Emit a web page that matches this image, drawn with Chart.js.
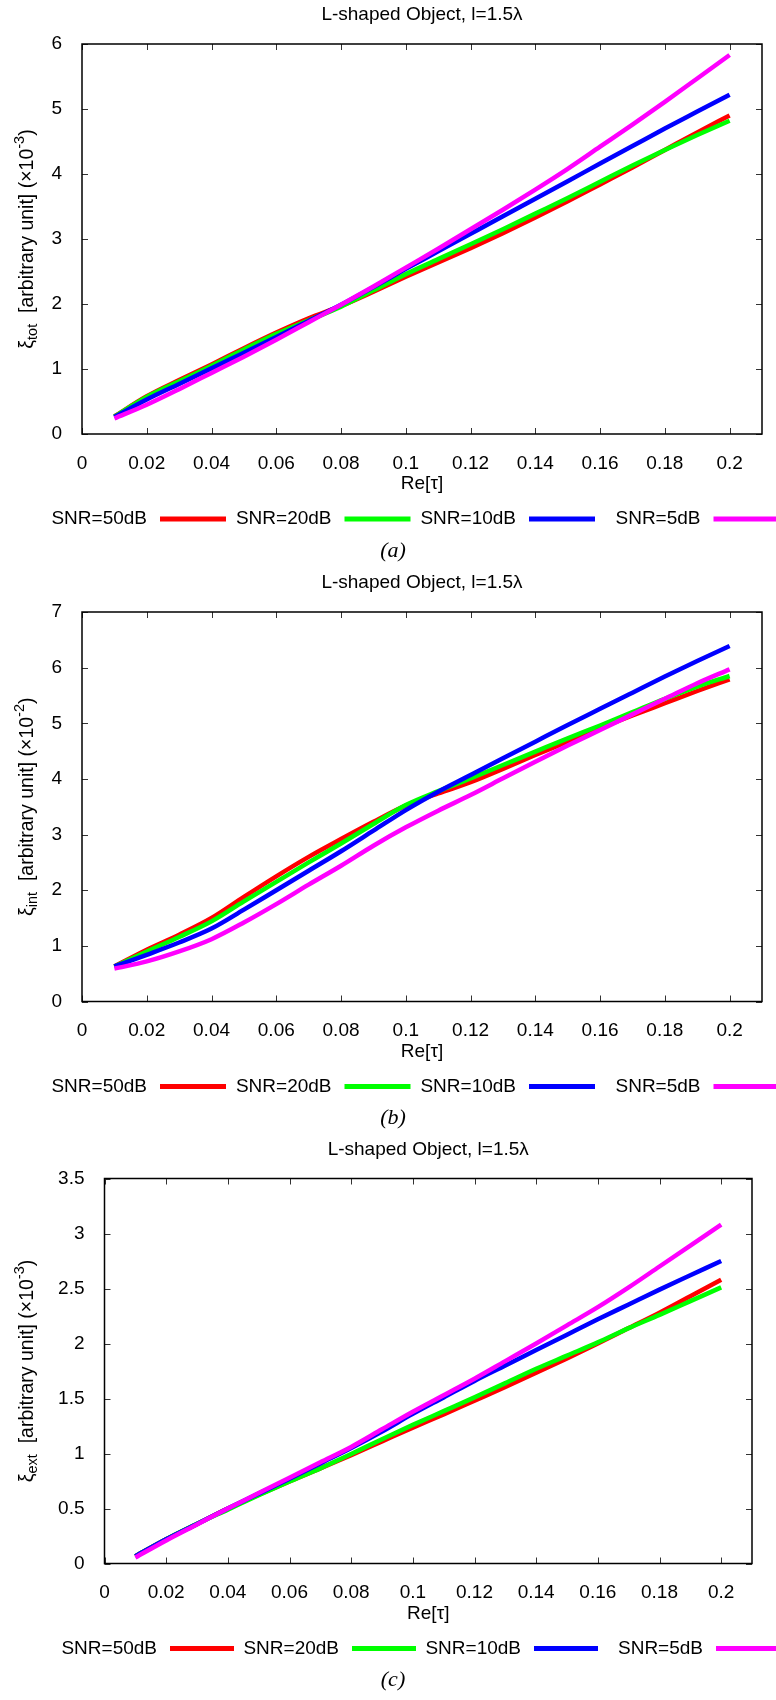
<!DOCTYPE html>
<html>
<head>
<meta charset="utf-8">
<script src="https://cdn.jsdelivr.net/npm/chart.js@4.4.1/dist/chart.umd.min.js"></script>
<style>
  html, body { margin: 0; padding: 0; background: #fff; }
  #page { position: relative; width: 776px; height: 1700px; }
  #page canvas { position: absolute; left: 0; }
</style>
</head>
<body>
<div id="page">
  <canvas id="chart-a" width="776" height="567" style="top:0"></canvas>
  <canvas id="chart-b" width="776" height="566" style="top:567px"></canvas>
  <canvas id="chart-c" width="776" height="567" style="top:1133px"></canvas>
</div>
<script>
// Re[tau] sample positions, shared by all three panels
const xValues = [0.01, 0.02, 0.03, 0.04, 0.05, 0.06, 0.07, 0.08, 0.09, 0.10,
                 0.11, 0.12, 0.13, 0.14, 0.15, 0.16, 0.17, 0.18, 0.19, 0.20];
const xTicks = [0, 0.02, 0.04, 0.06, 0.08, 0.1, 0.12, 0.14, 0.16, 0.18, 0.2];
const seriesLabels = ['SNR=50dB', 'SNR=20dB', 'SNR=10dB', 'SNR=5dB'];

// (a) xi_tot, x10^-3
const totSnr50 = [0.27, 0.58, 0.83, 1.07, 1.32, 1.56, 1.78, 1.97, 2.19, 2.42, 2.64, 2.86, 3.09, 3.33, 3.58, 3.84, 4.10, 4.37, 4.64, 4.90];
const totSnr20 = [0.27, 0.57, 0.81, 1.05, 1.30, 1.54, 1.75, 1.96, 2.21, 2.46, 2.69, 2.92, 3.15, 3.39, 3.63, 3.88, 4.13, 4.37, 4.60, 4.82];
const totSnr10 = [0.26, 0.53, 0.77, 1.01, 1.25, 1.49, 1.74, 1.99, 2.26, 2.54, 2.81, 3.08, 3.35, 3.62, 3.89, 4.16, 4.43, 4.70, 4.96, 5.22];
const totSnr5  = [0.24, 0.45, 0.69, 0.94, 1.19, 1.45, 1.72, 1.99, 2.27, 2.56, 2.85, 3.15, 3.45, 3.76, 4.08, 4.42, 4.76, 5.11, 5.47, 5.83];
const totTicks = [0, 1, 2, 3, 4, 5, 6];

// (b) xi_int, x10^-2
const intSnr50 = [0.63, 0.93, 1.20, 1.50, 1.88, 2.25, 2.60, 2.92, 3.23, 3.52, 3.74, 3.94, 4.18, 4.43, 4.67, 4.91, 5.14, 5.36, 5.58, 5.79];
const intSnr20 = [0.63, 0.90, 1.16, 1.44, 1.80, 2.15, 2.50, 2.84, 3.19, 3.53, 3.78, 4.01, 4.25, 4.49, 4.73, 4.96, 5.20, 5.44, 5.66, 5.85];
const intSnr10 = [0.63, 0.84, 1.06, 1.31, 1.65, 2.00, 2.35, 2.70, 3.07, 3.44, 3.77, 4.07, 4.37, 4.67, 4.97, 5.26, 5.55, 5.84, 6.12, 6.39];
const intSnr5  = [0.59, 0.72, 0.90, 1.12, 1.42, 1.75, 2.10, 2.44, 2.80, 3.13, 3.43, 3.71, 4.01, 4.31, 4.60, 4.88, 5.16, 5.44, 5.72, 5.97];
const intTicks = [0, 1, 2, 3, 4, 5, 6, 7];

// (c) xi_ext, x10^-3
const extSnr50 = [0.066, 0.22, 0.36, 0.50, 0.625, 0.745, 0.865, 0.985, 1.11, 1.235, 1.355, 1.48, 1.605, 1.735, 1.865, 2.00, 2.14, 2.28, 2.43, 2.58];
const extSnr20 = [0.066, 0.22, 0.36, 0.49, 0.62, 0.745, 0.865, 0.995, 1.13, 1.26, 1.385, 1.51, 1.64, 1.77, 1.89, 2.01, 2.14, 2.26, 2.385, 2.51];
const extSnr10 = [0.066, 0.22, 0.36, 0.50, 0.635, 0.77, 0.91, 1.05, 1.20, 1.36, 1.51, 1.66, 1.80, 1.94, 2.08, 2.22, 2.355, 2.49, 2.62, 2.75];
const extSnr5  = [0.055, 0.21, 0.355, 0.50, 0.64, 0.78, 0.92, 1.06, 1.22, 1.38, 1.53, 1.68, 1.84, 2.00, 2.165, 2.33, 2.51, 2.70, 2.89, 3.08];
const extTicks = [0, 0.5, 1, 1.5, 2, 2.5, 3, 3.5];

const COLORS = ['#ff0000', '#00ff00', '#0000ff', '#ff00ff'];
const FONT = '"Liberation Sans", Arial, sans-serif';
const Y_AXIS_W = 60, X_AXIS_H = 45;

const fmt = v => String(Number(v.toFixed(3)));

function drawYLabel(ctx, cx, cy, sub, exp) {
  const big = '19.5px ' + FONT, small = '14.5px ' + FONT;
  const parts = [
    { t: 'ξ', f: big, dy: 0 },
    { t: sub, f: small, dy: 5 },
    { t: '  [arbitrary unit] (×10', f: big, dy: 0 },
    { t: exp, f: small, dy: -8 },
    { t: ')', f: big, dy: 0 }
  ];
  let total = 0;
  parts.forEach(p => { ctx.font = p.f; p.w = ctx.measureText(p.t).width; total += p.w; });
  ctx.save();
  ctx.translate(cx, cy);
  ctx.rotate(-Math.PI / 2);
  ctx.textBaseline = 'middle';
  ctx.textAlign = 'left';
  ctx.fillStyle = '#000';
  let x = -total / 2;
  parts.forEach(p => { ctx.font = p.f; ctx.fillText(p.t, x, p.dy); x += p.w; });
  ctx.restore();
}

const gnuFrame = {
  id: 'gnuFrame',
  afterDatasetsDraw(chart) {
    const { ctx, chartArea: a, scales } = chart;
    const cfg = chart.options.plugins.gnuFrame;
    ctx.save();
    // inward ticks on all four sides
    ctx.strokeStyle = '#333';
    ctx.lineWidth = 1;
    ctx.beginPath();
    scales.x.ticks.forEach(t => {
      const px = Math.round(scales.x.getPixelForValue(t.value)) + 0.5;
      ctx.moveTo(px, a.bottom); ctx.lineTo(px, a.bottom - 6);
      ctx.moveTo(px, a.top); ctx.lineTo(px, a.top + 6);
    });
    scales.y.ticks.forEach(t => {
      const py = Math.round(scales.y.getPixelForValue(t.value)) + 0.5;
      ctx.moveTo(a.left, py); ctx.lineTo(a.left + 6, py);
      ctx.moveTo(a.right, py); ctx.lineTo(a.right - 6, py);
    });
    ctx.stroke();
    ctx.strokeStyle = '#000';
    ctx.lineWidth = 1.5;
    ctx.strokeRect(a.left, a.top, a.right - a.left, a.bottom - a.top);

    const mid = (a.left + a.right) / 2;
    ctx.fillStyle = '#000';
    ctx.textAlign = 'center';
    ctx.textBaseline = 'middle';
    ctx.font = '19px ' + FONT;
    ctx.fillText('L-shaped Object, l=1.5λ', mid, a.top - 29);
    ctx.fillText('Re[τ]', mid, a.bottom + 50);

    drawYLabel(ctx, 28, (a.top + a.bottom) / 2, cfg.sub, cfg.exp);

    // horizontal key below the axis
    const ly = a.bottom + 85;
    chart.data.datasets.forEach((ds, i) => {
      const right = cfg.keyStart + i * cfg.keyStep;
      ctx.font = '19px ' + FONT;
      ctx.textAlign = 'right';
      ctx.fillStyle = '#000';
      ctx.fillText(ds.label, right, ly);
      ctx.strokeStyle = ds.borderColor;
      ctx.lineWidth = 5;
      ctx.beginPath();
      ctx.moveTo(right + 13, ly);
      ctx.lineTo(right + 13 + cfg.keyLen, ly);
      ctx.stroke();
    });

    ctx.font = 'italic 22px "Liberation Serif", "DejaVu Serif", serif';
    ctx.textAlign = 'center';
    ctx.fillStyle = '#000';
    ctx.fillText(cfg.caption, 393, a.bottom + 117);
    ctx.restore();
  }
};

function makePanel(canvasId, series, yTicks, box, extra) {
  const canvas = document.getElementById(canvasId);
  const datasets = series.map((vals, i) => ({
    label: seriesLabels[i],
    data: xValues.map((x, k) => ({ x, y: vals[k] })),
    borderColor: COLORS[i],
    backgroundColor: COLORS[i],
    borderWidth: 4.5,
    pointRadius: 0,
    fill: false,
    cubicInterpolationMode: 'monotone',
    order: series.length - i
  }));
  return new Chart(canvas, {
    type: 'line',
    data: { datasets },
    options: {
      responsive: false,
      animation: false,
      devicePixelRatio: 1,
      layout: {
        padding: {
          left: box.left - Y_AXIS_W,
          top: box.top,
          right: canvas.width - box.right,
          bottom: canvas.height - box.bottom - X_AXIS_H
        }
      },
      plugins: {
        legend: { display: false },
        title: { display: false },
        tooltip: { enabled: false },
        gnuFrame: extra
      },
      scales: {
        x: {
          type: 'linear',
          min: 0,
          max: 0.21,
          afterBuildTicks: s => { s.ticks = xTicks.map(v => ({ value: v })); },
          afterFit: s => { s.height = X_AXIS_H; },
          grid: { display: false },
          border: { display: false },
          ticks: { callback: fmt, color: '#000', padding: 10, maxRotation: 0, autoSkip: false, font: { family: FONT, size: 19 } }
        },
        y: {
          type: 'linear',
          min: yTicks[0],
          max: yTicks[yTicks.length - 1],
          afterBuildTicks: s => { s.ticks = yTicks.map(v => ({ value: v })); },
          afterFit: s => { s.width = Y_AXIS_W; },
          grid: { display: false },
          border: { display: false },
          ticks: { callback: fmt, color: '#000', padding: 12, autoSkip: false, font: { family: FONT, size: 19 } }
        }
      }
    },
    plugins: [gnuFrame]
  });
}

makePanel('chart-a', [totSnr50, totSnr20, totSnr10, totSnr5], totTicks,
  { left: 82, top: 44, right: 762, bottom: 434 },
  { sub: 'tot', exp: '-3', caption: '(a)', keyStart: 147, keyStep: 184.5, keyLen: 66 });

makePanel('chart-b', [intSnr50, intSnr20, intSnr10, intSnr5], intTicks,
  { left: 82, top: 45, right: 762, bottom: 434.5 },
  { sub: 'int', exp: '-2', caption: '(b)', keyStart: 147, keyStep: 184.5, keyLen: 66 });

makePanel('chart-c', [extSnr50, extSnr20, extSnr10, extSnr5], extTicks,
  { left: 104.5, top: 45.5, right: 752, bottom: 430.5 },
  { sub: 'ext', exp: '-3', caption: '(c)', keyStart: 157, keyStep: 182, keyLen: 64 });
</script>
</body>
</html>
